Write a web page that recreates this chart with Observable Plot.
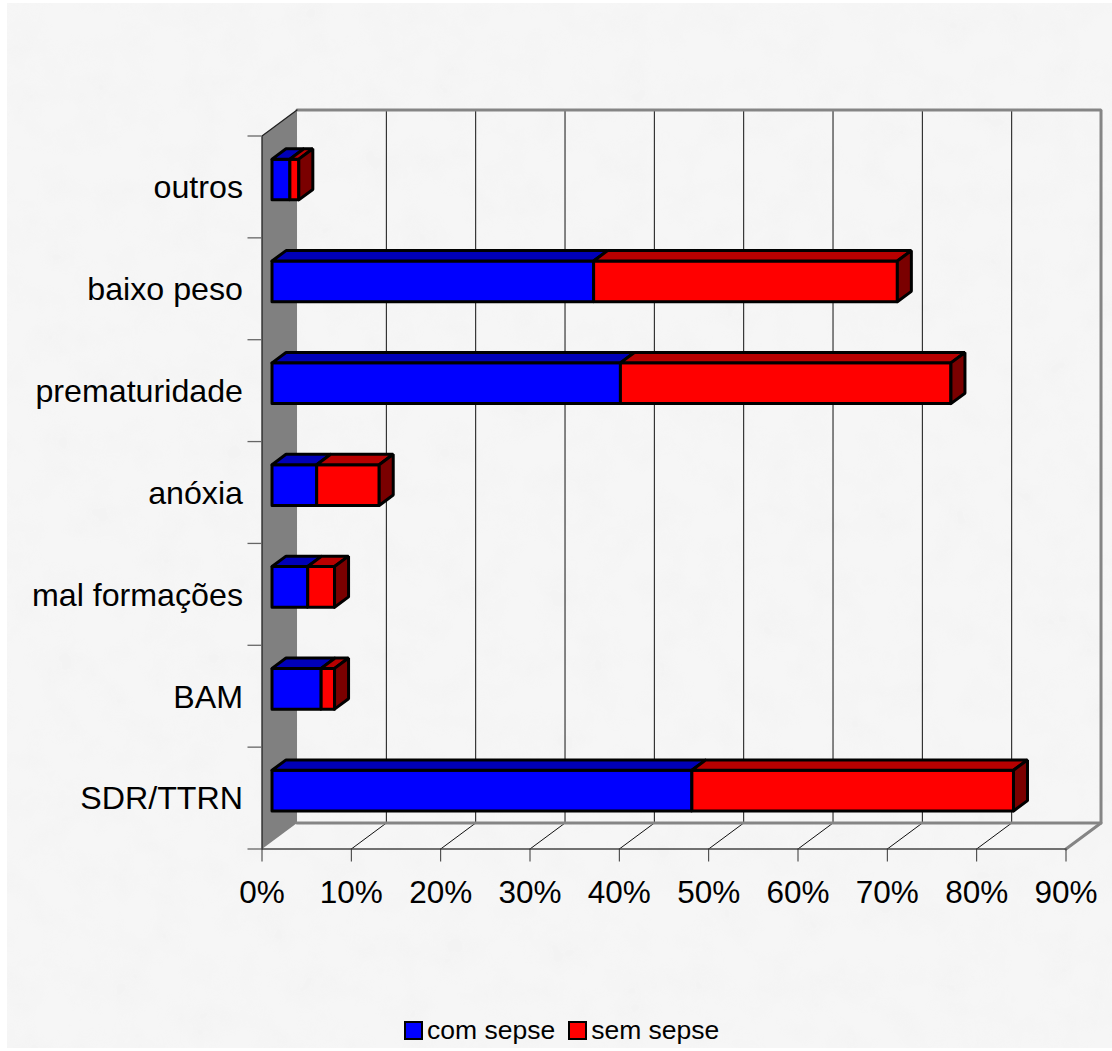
<!DOCTYPE html>
<html lang="pt">
<head>
<meta charset="utf-8">
<title>Diagnósticos com e sem sepse</title>
<script src="https://cdn.jsdelivr.net/npm/d3@7"></script>
<script src="https://cdn.jsdelivr.net/npm/@observablehq/plot@0.6"></script>
<style>
  html, body { margin: 0; padding: 0; background: #fff; }
  #chart { position: relative; width: 1112px; height: 1051px; overflow: hidden; font-family: "Liberation Sans", Arial, sans-serif; }
  #paper { position: absolute; left: 7px; top: 3px; }
  #chart > svg:not(#paper) { position: absolute; left: 0; top: 0; max-width: none; }
  #legend { position: absolute; z-index: 2; left: 404px; top: 1015px; display: flex; align-items: center; font-size: 26.5px; line-height: 30px; color: #000; white-space: pre; }
  #legend i { display: inline-block; width: 15px; height: 15px; border: 2px solid #000; margin-right: 4px; }
  #legend span { margin-right: 13px; }
</style>
</head>
<body>
<div id="chart">
  <svg id="paper" width="1105" height="1045">
    <filter id="marble" x="0" y="0" width="100%" height="100%">
      <feTurbulence type="fractalNoise" baseFrequency="0.028" numOctaves="3" seed="23"/>
      <feColorMatrix values="0 0 0 0 0.89  0 0 0 0 0.89  0 0 0 0 0.89  2.4 0 0 0 -0.95"/>
    </filter>
    <rect width="1105" height="1045" fill="#f6f6f6"/>
    <rect width="1105" height="1045" filter="url(#marble)" opacity="0.5"/>
  </svg>
  <div id="legend"><i style="background:#0000ff"></i><span>com sepse</span><i style="background:#ff0000"></i><span>sem sepse</span></div>
</div>
<script>
// Categories from the bottom of the chart to the top, values in percent.
const categorias = ["SDR/TTRN", "BAM", "mal formações", "anóxia", "prematuridade", "baixo peso", "outros"];
const comSepse = [47, 5.5, 4, 5, 39, 36, 2];
const semSepse = [36, 1.5, 3, 7, 37, 34, 1];
const xTicks = [0, 10, 20, 30, 40, 50, 60, 70, 80, 90];

// Oblique projection: depth 0 is the front of the box, depth 1 the back wall.
const depthX = 3.92;   // percentage points per unit of depth
const depthY = 0.255;  // category bands per unit of depth
const at = (v, c, d) => ({x: v + d * depthX, y: c + d * depthY});

const barFront = 0.286, barBack = 0.686, barHalf = 0.2;

// Closed polygon given as [value, category position, depth] corners.
const poly = (id, fill, corners) =>
  [...corners, corners[0]].map(([v, c, d]) => ({id, fill, ...at(v, c, d)}));

// Faces of the stacked bars.
const barFaces = categorias.flatMap((_, i) => {
  const c0 = i + 0.5 - barHalf, c1 = i + 0.5 + barHalf;
  const face = (name, a, b, front, top) => [
    ...poly(`${name}-${i}-front`, front, [[a, c0, barFront], [b, c0, barFront], [b, c1, barFront], [a, c1, barFront]]),
    ...poly(`${name}-${i}-top`, top, [[a, c1, barFront], [b, c1, barFront], [b, c1, barBack], [a, c1, barBack]])
  ];
  const end = comSepse[i] + semSepse[i];
  return [
    ...face("com", 0, comSepse[i], "#0000ff", "#0000b8"),
    ...face("sem", comSepse[i], end, "#ff0000", "#b80000"),
    ...poly(`sem-${i}-side`, "#7a0000", [[end, c0, barFront], [end, c1, barFront], [end, c1, barBack], [end, c0, barBack]])
  ];
});

const wall = poly("wall", "#808080", [[0, 0, 0], [0, 0, 1], [0, 7, 1], [0, 7, 0]]);

const backFrame = [[0, 7, 1], [90, 7, 1], [90, 0, 1], [90, 0, 0]].map(([v, c, d]) => at(v, c, d));
const backFloor = [[0, 0, 1], [90, 0, 1]].map(([v, c, d]) => at(v, c, d));
const wallEdge = [[0, 0, 0], [0, 7, 0], [0, 7, 1]].map(([v, c, d]) => at(v, c, d));

const gridLines = xTicks.slice(1, -1).flatMap(v => [
  {id: v, ...at(v, 0, 0)}, {id: v, ...at(v, 0, 1)}, {id: v, ...at(v, 7, 1)}
]);

const plot = Plot.plot({
  width: 1112,
  height: 1051,
  marginTop: 135.5,
  marginBottom: 202.5,
  marginLeft: 261.5,
  marginRight: 46.5,
  style: {background: "transparent", fontFamily: "'Liberation Sans', Arial, sans-serif", overflow: "visible"},
  x: {domain: [0, 90]},
  y: {domain: [0, 7]},
  marks: [
    Plot.line(gridLines, {x: "x", y: "y", z: "id", stroke: "#111", strokeWidth: 1}),
    Plot.line(wall, {x: "x", y: "y", z: "id", fill: "#808080", stroke: "none"}),
    Plot.line(backFrame, {x: "x", y: "y", stroke: "#858585", strokeWidth: 3, strokeLinejoin: "miter"}),
    Plot.line(backFloor, {x: "x", y: "y", stroke: "#858585", strokeWidth: 3}),
    Plot.line(wallEdge, {x: "x", y: "y", stroke: "#222", strokeWidth: 1.3}),
    Plot.line(barFaces, {x: "x", y: "y", z: "id", fill: "fill", stroke: "#000", strokeWidth: 3, strokeLinejoin: "miter"}),
    Plot.ruleY([0], {x1: 0, x2: 90, stroke: "#444", strokeWidth: 1.5}),
    Plot.axisX({
      ticks: xTicks, tickFormat: d => `${d}%`, tickSize: 13, tickPadding: 19,
      fontSize: 31.5, stroke: "#333", label: null, color: "#000"
    }),
    Plot.axisY({
      ticks: d3.range(0, 8), tickFormat: () => "", tickSize: 14, stroke: "#666", strokeWidth: 1.3, label: null
    }),
    Plot.text(categorias, {
      x: 0, y: (_, i) => i + 0.5, text: d => d, dx: -19, dy: 1,
      textAnchor: "end", fontSize: 32.2, fill: "#000"
    })
  ]
});

document.getElementById("chart").append(plot);
</script>
</body>
</html>
